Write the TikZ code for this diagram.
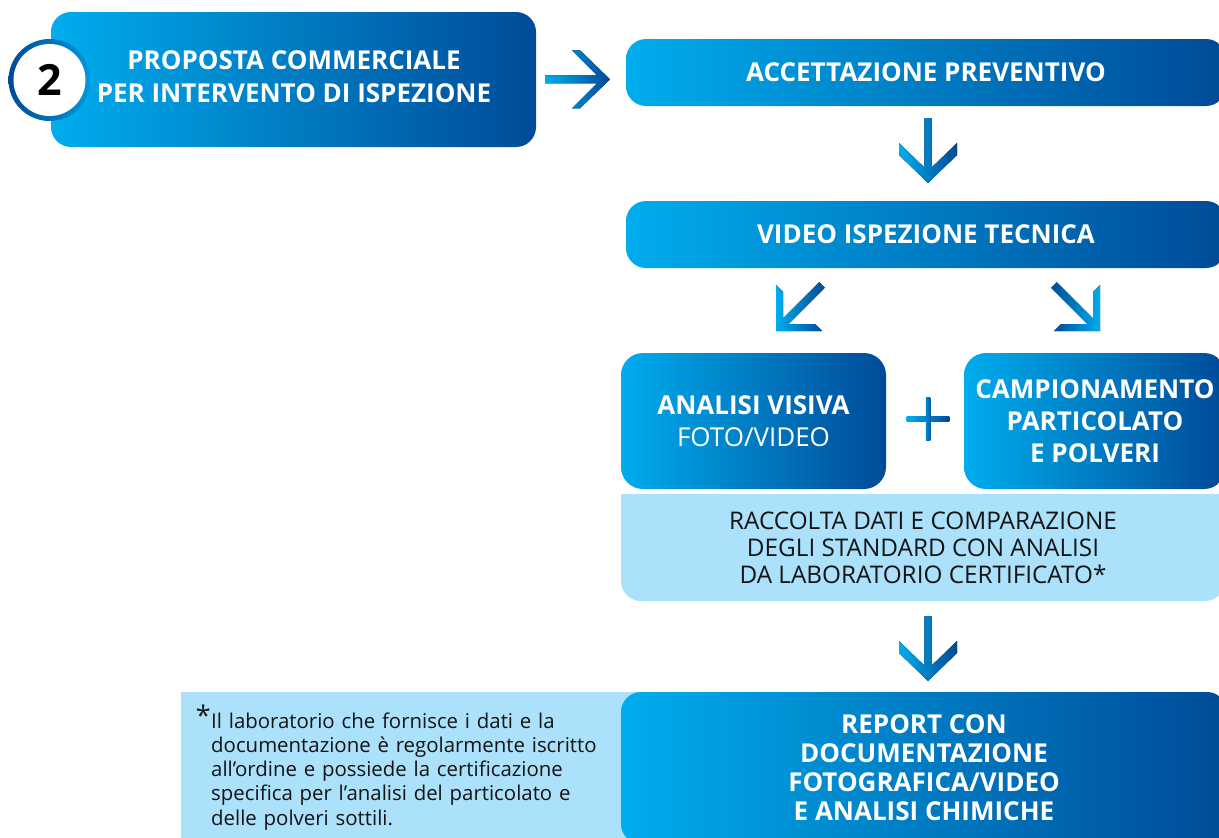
\documentclass[tikz,border=0pt]{standalone}
\usepackage{fontspec}
\setmainfont{Open Sans}
\usetikzlibrary{backgrounds,calc}
\definecolor{cyanB}{HTML}{00ADED}
\definecolor{darkB}{HTML}{004A98}
\definecolor{lightB}{HTML}{ABE1FA}
\definecolor{inkB}{HTML}{141414}
\newcommand\bxfont{\fontsize{26}{33}\selectfont\bfseries}
\tikzset{
  bluebox/.style={rounded corners=20pt, left color=cyanB, right color=darkB,
    text=white, align=center, inner sep=0pt, font=\bxfont},
  lightbox/.style={rounded corners=20pt, fill=lightB, text=inkB, align=center,
    inner sep=0pt, font=\fontsize{24.3}{27}\selectfont},
  arrowfill/.style={left color=cyanB, right color=darkB},
  arrowfillrev/.style={left color=darkB, right color=cyanB},
}
\begin{document}
\begin{tikzpicture}[x=1pt,y=-1pt]
\useasboundingbox (0,0) rectangle (1219,838);
\clip (0,0) rectangle (1219,838);

% step 1 box
\node[bluebox, minimum width=485pt, minimum height=135pt] (prop) at (293.5,79.5) {};
\node[text=white, align=center, inner sep=0pt, font=\bxfont] (proptext) at (294,77)
  {PROPOSTA COMMERCIALE\\PER INTERVENTO DI ISPEZIONE};
\node[circle, minimum size=82pt, inner sep=0pt, left color=darkB, right color=cyanB!80!darkB] (ring) at (49.5,80) {};
\node[circle, minimum size=72pt, inner sep=0pt, fill=white, text=black,
  font=\fontsize{43}{43}\selectfont\bfseries] (num) at (ring.center) {2};

% accettazione
\node[bluebox, minimum width=600pt, minimum height=67pt] (acc) at (926,72.5) {ACCETTAZIONE PREVENTIVO};
% video
\node[bluebox, minimum width=600pt, minimum height=67pt] (vid) at (926,234.5) {VIDEO ISPEZIONE TECNICA};
% analisi
\node[bluebox, rounded corners=22pt, minimum width=265pt, minimum height=136pt,
  font=\fontsize{26}{32}\selectfont\bfseries] (ana) at (753.5,421) {ANALISI VISIVA\\{\mdseries FOTO/VIDEO}};
% campionamento
\node[bluebox, rounded corners=22pt, minimum width=262pt, minimum height=136pt,
  font=\fontsize{26}{32}\selectfont\bfseries] (camp) at (1095,421) {CAMPIONAMENTO\\PARTICOLATO\\E POLVERI};
% plus
\node[minimum size=44pt, inner sep=0pt] (plus) at (928,419) {};
\fill[arrowfill] (906.7,416.7) rectangle (949.3,421.1);
\fill[left color=cyanB!60!darkB, right color=darkB!80!cyanB] (925.9,397.3) rectangle (930.3,440.7);

% raccolta
\node[lightbox, minimum width=604pt, minimum height=107pt] (racc) at (923,547.5)
  {RACCOLTA DATI E COMPARAZIONE\\DEGLI STANDARD CON ANALISI\\DA LABORATORIO CERTIFICATO*};
\begin{pgfonlayer}{background}
\fill[lightB] (racc.north west) rectangle (racc.east);
\end{pgfonlayer}

% footnote band
\node[fill=lightB, minimum width=470pt, minimum height=150pt, inner sep=0pt, anchor=north west] (band) at (181,692) {};
\node[text=inkB, align=left, text width=420pt, inner sep=0pt, anchor=base west,
  font=\fontsize{20.4}{24.3}\selectfont] (note) at (211,728)
  {\llap{\raisebox{3pt}{\fontsize{27}{27}\selectfont *}\hspace{0.5pt}}Il laboratorio che fornisce i dati e la\\
   documentazione è regolarmente iscritto\\
   all’ordine e possiede la certificazione\\
   specifica per l’analisi del particolato e\\
   delle polveri sottili.};

% report
\node[bluebox, minimum width=606pt, minimum height=152pt,
  font=\fontsize{26}{29}\selectfont\bfseries] (rep) at (924,768)
  {REPORT CON\\DOCUMENTAZIONE\\FOTOGRAFICA/VIDEO\\E ANALISI CHIMICHE};

% arrows
\coordinate (t1) at (610,79.3);
\coordinate (t2) at (928,183);
\coordinate (t3) at (928,681);
\coordinate (c4) at (776,331);
\coordinate (c5) at (1100,331);

\fill[arrowfill] (t1) -- ++(-30,29) -- ++(-8,0) -- ++(25,-25) -- ++(-52,0) -- ++(0,-8)
  -- ++(52,0) -- ++(-25,-25) -- ++(8,0) -- cycle;

\fill[arrowfill] (t2) -- ++(29,-28) -- ++(0,-12) -- ++(-25.4,24.5) -- ++(0,-49.5) -- ++(-7.2,0)
  -- ++(0,49.5) -- ++(-25.4,-24.5) -- ++(0,12) -- cycle;

\fill[arrowfill] (t3) -- ++(29,-28) -- ++(0,-12) -- ++(-25.4,24.5) -- ++(0,-49.5) -- ++(-7.2,0)
  -- ++(0,49.5) -- ++(-25.4,-24.5) -- ++(0,12) -- cycle;

\fill[arrowfill] (c4) ++(0,-46) -- ++(7,7) -- ++(0,26.3) -- ++(36.2,-36.1) -- ++(5.6,5.6)
  -- ++(-36.1,36.2) -- ++(26.3,0) -- ++(7,7) -- ++(-46,0) -- cycle;

\fill[arrowfillrev] (c5) ++(0,-46) -- ++(-7,7) -- ++(0,26.3) -- ++(-36.2,-36.1) -- ++(-5.6,5.6)
  -- ++(36.1,36.2) -- ++(-26.3,0) -- ++(-7,7) -- ++(46,0) -- cycle;
\end{tikzpicture}
\end{document}
